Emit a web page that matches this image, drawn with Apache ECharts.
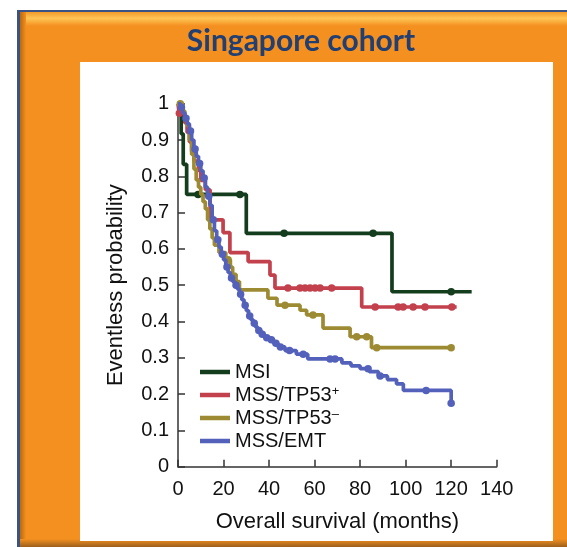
<!DOCTYPE html>
<html>
<head>
<meta charset="utf-8">
<script src="https://cdn.jsdelivr.net/npm/echarts@6/dist/echarts.min.js"></script>
<style>
  html, body { margin: 0; padding: 0; background: #ffffff; }
  #chart { width: 567px; height: 547px; }
</style>
</head>
<body>
<div id="chart"></div>
<script>
// Kaplan–Meier step curves: event times (months) and eventless probability after each step
const groupNames = ['MSI', 'MSS/TP53+', 'MSS/TP53\u2212', 'MSS/EMT'];
const groupColors = ['#143d1d', '#c3414d', '#9d8b33', '#5361bb'];

const msiTime = [0, 1.4, 2.3, 3.8, 30, 94, 129];
const msiSurv = [1, 0.917, 0.833, 0.75, 0.643, 0.482, 0.482];
const msiCensor = [8.8, 27.2, 46.6, 85.7, 120];

const tp53posTime = [0, 0.5, 3, 4, 5, 6, 7, 9, 10, 12, 14.1, 19.8, 22.8, 30.8, 40.4, 42.6, 80.7, 122.4];
const tp53posSurv = [1, 0.974, 0.947, 0.921, 0.895, 0.868, 0.842, 0.816, 0.789, 0.763, 0.68, 0.645, 0.59, 0.565, 0.528, 0.492, 0.44, 0.44];
const tp53posCensor = [0.6, 48.3, 53.6, 55.8, 58, 60.2, 62.4, 67.5, 86.6, 96.7, 98.9, 103.3, 108.5, 120.3];

const tp53negTime = [0, 2, 3, 4, 5, 6, 7, 8, 9, 10, 11, 12, 13, 14, 15, 16, 18, 21, 23, 24, 25.5, 27, 39.5, 43.5, 53.6, 56.5, 63.7, 75.6, 85, 120];
const tp53negSurv = [1, 0.98, 0.96, 0.94, 0.9, 0.86, 0.82, 0.79, 0.77, 0.75, 0.73, 0.71, 0.68, 0.655, 0.63, 0.61, 0.59, 0.57, 0.55, 0.53, 0.51, 0.487, 0.464, 0.445, 0.431, 0.418, 0.382, 0.358, 0.328, 0.328];
const tp53negCensor = [1, 22, 47, 59.3, 78.5, 82.9, 87.3, 120];

const emtTime = [0, 1, 2, 3, 4, 5, 6, 7, 8, 9, 10, 11, 12, 13, 14, 15, 16, 17, 18, 19, 20, 21, 22, 23, 24, 25, 26, 27, 28, 29, 30, 31, 32, 33, 34, 35, 36.5, 38, 40, 42, 44, 47, 52, 57, 72, 76, 80, 84, 88, 92, 96, 99, 120];
const emtSurv = [1, 0.99, 0.975, 0.96, 0.945, 0.925, 0.9, 0.875, 0.855, 0.835, 0.815, 0.795, 0.77, 0.745, 0.72, 0.68, 0.65, 0.625, 0.605, 0.585, 0.57, 0.55, 0.535, 0.52, 0.51, 0.5, 0.49, 0.475, 0.46, 0.445, 0.43, 0.415, 0.405, 0.395, 0.385, 0.375, 0.365, 0.355, 0.35, 0.34, 0.33, 0.32, 0.31, 0.297, 0.286, 0.278, 0.27, 0.262, 0.25, 0.24, 0.228, 0.21, 0.175];
const emtCensor = [1.5, 3.5, 5.5, 7.5, 9.5, 11.5, 13.5, 15.5, 17.5, 19.5, 21.5, 23.5, 25.5, 27.5, 29.5, 31.5, 33.5, 35.5, 37, 39, 41, 43, 45, 49, 55, 66.8, 69, 83.5, 88.8, 109, 120];

const xTicks = [0, 20, 40, 60, 80, 100, 120, 140];
const yTicks = [0, 0.1, 0.2, 0.3, 0.4, 0.5, 0.6, 0.7, 0.8, 0.9, 1];

const groups = [
  { time: msiTime, surv: msiSurv, censor: msiCensor },
  { time: tp53posTime, surv: tp53posSurv, censor: tp53posCensor },
  { time: tp53negTime, surv: tp53negSurv, censor: tp53negCensor },
  { time: emtTime, surv: emtSurv, censor: emtCensor }
];

// value of a step curve at time t (last step at or before t)
function stepValue(time, surv, t) {
  let v = surv[0];
  for (let i = 0; i < time.length; i++) {
    if (time[i] <= t) v = surv[i]; else break;
  }
  return v;
}

const font = '"Liberation Sans", Arial, Helvetica, sans-serif';
const series = [];
groups.forEach((g, i) => {
  series.push({
    name: groupNames[i],
    type: 'line',
    step: 'end',
    showSymbol: false,
    silent: true,
    z: 2 + i,
    lineStyle: { color: groupColors[i], width: 3.7 },
    itemStyle: { color: groupColors[i] },
    data: g.time.map((t, k) => [t, g.surv[k]])
  });
  series.push({
    name: groupNames[i] + ' censored',
    type: 'scatter',
    symbol: 'circle',
    symbolSize: 7.5,
    silent: true,
    z: 2 + i,
    itemStyle: { color: groupColors[i], opacity: 1 },
    data: g.censor.map(t => [t, stepValue(g.time, g.surv, t)])
  });
});

const chart = echarts.init(document.getElementById('chart'), null, { renderer: 'canvas' });
chart.setOption({
  animation: false,
  backgroundColor: '#ffffff',
  title: {
    text: 'Singapore cohort',
    left: 296,
    top: 21,
    textAlign: 'center',
    textStyle: { fontFamily: 'Lato', fontWeight: 'bold', fontSize: 30, color: '#213f73' }
  },
  graphic: [
    { type: 'rect', z: -10, shape: { x: 17, y: 10, width: 560, height: 545 }, style: { fill: '#3b5383' } },
    { type: 'rect', z: -9, shape: { x: 20, y: 12, width: 560, height: 535 }, style: { fill: '#f39020' } },
    { type: 'rect', z: -8, shape: { x: 20, y: 12, width: 560, height: 14 },
      style: { fill: new echarts.graphic.LinearGradient(0, 0, 0, 1, [
        { offset: 0, color: '#f29a2a' }, { offset: 0.45, color: '#ffc555' }, { offset: 1, color: '#f39020' }]) } },
    { type: 'rect', z: -8, shape: { x: 20, y: 12, width: 6, height: 535 },
      style: { fill: new echarts.graphic.LinearGradient(0, 0, 1, 0, [
        { offset: 0, color: '#b9680f' }, { offset: 1, color: '#f39020' }]) } },
    { type: 'rect', z: -8, shape: { x: 20, y: 539, width: 560, height: 8 },
      style: { fill: new echarts.graphic.LinearGradient(0, 0, 0, 1, [
        { offset: 0, color: '#f39020' }, { offset: 1, color: '#9c5f1c' }]) } },
    { type: 'rect', z: -7, shape: { x: 80, y: 62, width: 473, height: 479 }, style: { fill: '#ffffff' } }
  ],
  legend: {
    data: groupNames,
    orient: 'vertical',
    left: 195,
    top: 357,
    icon: 'rect',
    itemWidth: 30,
    itemHeight: 4.5,
    itemGap: 3,
    selectedMode: false,
    formatter: function (name) {
      if (name === 'MSS/TP53+') return '{t|MSS/TP53}{s|+}';
      if (name === 'MSS/TP53\u2212') return '{t|MSS/TP53}{s|\u2013}';
      return '{t|' + name + '}';
    },
    textStyle: {
      rich: {
        t: { fontFamily: font, fontSize: 20, color: '#111111', lineHeight: 20 },
        s: { fontFamily: font, fontSize: 13, color: '#111111', lineHeight: 10, verticalAlign: 'top' }
      }
    }
  },
  grid: { left: 178, right: 70.3, top: 103.7, bottom: 80.3 },
  xAxis: {
    type: 'value',
    min: xTicks[0],
    max: xTicks[xTicks.length - 1],
    interval: 20,
    name: 'Overall survival (months)',
    nameLocation: 'middle',
    nameGap: 44,
    nameTextStyle: { fontFamily: font, fontSize: 22, color: '#111111' },
    axisLine: { show: true, lineStyle: { color: '#333333', width: 1.5 } },
    axisTick: { show: true, inside: true, length: 7, lineStyle: { color: '#333333', width: 1.5 } },
    axisLabel: { fontFamily: font, fontSize: 20, color: '#111111', margin: 13 },
    splitLine: { show: false }
  },
  yAxis: {
    type: 'value',
    min: yTicks[0],
    max: yTicks[yTicks.length - 1],
    interval: 0.1,
    name: 'Eventless probability',
    nameLocation: 'middle',
    nameGap: 51,
    nameRotate: 90,
    nameTextStyle: { fontFamily: font, fontSize: 22, color: '#111111' },
    axisLine: { show: true, lineStyle: { color: '#333333', width: 1.5 } },
    axisTick: { show: true, inside: true, length: 7, lineStyle: { color: '#333333', width: 1.5 } },
    axisLabel: { fontFamily: font, fontSize: 20, color: '#111111', margin: 9,
      formatter: v => String(Math.round(v * 10) / 10) },
    splitLine: { show: false }
  },
  series: series
});
</script>
</body>
</html>
